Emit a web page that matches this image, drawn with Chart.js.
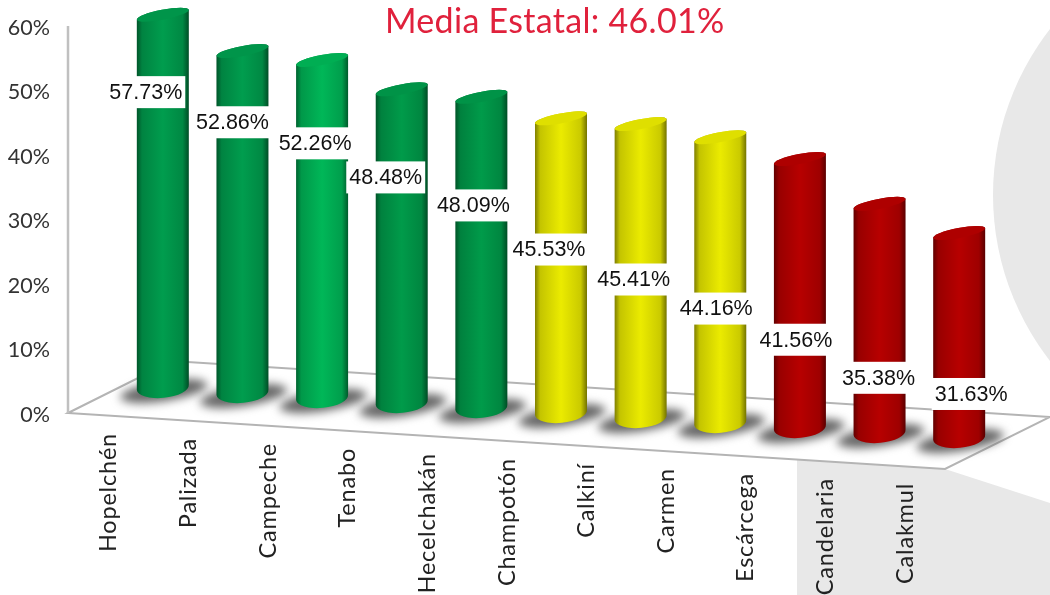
<!DOCTYPE html>
<html lang="es">
<head>
  <meta charset="UTF-8">
  <title>Media Estatal</title>
  <style>
    html, body { margin: 0; padding: 0; background: #fff; overflow: hidden; }
    canvas { display: block; }
  </style>
</head>
<body>
  <canvas id="chart" width="1050" height="595"></canvas>
  <script src="https://cdn.jsdelivr.net/npm/chart.js"></script>
  <script>
    // Data
    const titleText = 'Media Estatal: 46.01%';
    const municipios = ['Hopelchén', 'Palizada', 'Campeche', 'Tenabo', 'Hecelchakán', 'Champotón', 'Calkiní', 'Carmen', 'Escárcega', 'Candelaria', 'Calakmul'];
    const porcentajes = [57.73, 52.86, 52.26, 48.48, 48.09, 45.53, 45.41, 44.16, 41.56, 35.38, 31.63];
    const yTicks = [0, 10, 20, 30, 40, 50, 60];

    // Colours, one per bar
    const barColors = ['#009a4c', '#009a4c', '#00b356', '#009849', '#009849', '#e6e600', '#e6e600', '#e6e600', '#b30000', '#b30000', '#b30000'];

    // Hand placed value labels, relative to the top of each bar
    const labelDx = [-17, -10, -7, -16, -8, -12, -7, -4, -4, -1, 12];
    const labelDy = [49.5, 48.2, 65.4, 75.1, 100.6, 128.2, 157.4, 178.4, 192.8, 191, 183];

    // The fake perspective: each bar sits a bit lower than the previous one
    const baseLift = 25;
    const baseDrop = 5;
    const uiFont = 'Lato, sans-serif';

    function shade(hex, k) {
      const n = parseInt(hex.slice(1), 16);
      const c = [n >> 16, (n >> 8) & 255, n & 255].map(v => Math.round(Math.min(255, v * k)));
      return `rgb(${c[0]},${c[1]},${c[2]})`;
    }

    const backdrop = {
      id: 'backdrop',
      beforeDatasetsDraw(chart) {
        const { ctx, width, height } = chart;
        const y0 = chart.scales.y.getPixelForValue(0);
        const y60 = chart.scales.y.getPixelForValue(60);
        ctx.save();

        // pale grey page decoration
        ctx.fillStyle = '#e8e8e8';
        ctx.beginPath();
        ctx.arc(1263, 195, 270, 0, Math.PI * 2);
        ctx.fill();
        ctx.beginPath();
        ctx.moveTo(797, 455);
        ctx.lineTo(945, 469);
        ctx.lineTo(width, 503);
        ctx.lineTo(width, height);
        ctx.lineTo(797, height);
        ctx.closePath();
        ctx.fill();

        // floor
        ctx.beginPath();
        ctx.moveTo(68, y0 - 2);
        ctx.lineTo(172, 361);
        ctx.lineTo(width, 417);
        ctx.lineTo(945, 469);
        ctx.closePath();
        ctx.fillStyle = '#fff';
        ctx.fill();
        ctx.strokeStyle = '#b4b4b4';
        ctx.lineWidth = 2;
        ctx.stroke();

        // vertical axis
        ctx.strokeStyle = '#c0c0c0';
        ctx.lineWidth = 2.5;
        ctx.beginPath();
        ctx.moveTo(68, y60 - 2);
        ctx.lineTo(68, y0 - 2);
        ctx.stroke();

        // shadows under the cylinders
        chart.getDatasetMeta(0).data.forEach((bar, i) => {
          const yb = bar.base - baseLift + baseDrop * i;
          ctx.save();
          ctx.filter = 'blur(5px)';
          ctx.fillStyle = '#666';
          ctx.beginPath();
          ctx.ellipse(bar.x + 1, yb + 1, 44, 10, -0.15, 0, Math.PI * 2);
          ctx.fill();
          ctx.restore();
        });
        ctx.restore();
      }
    };

    const cylinders = {
      id: 'cylinders',
      afterDatasetsDraw(chart) {
        const { ctx } = chart;
        const meta = chart.getDatasetMeta(0);
        const topTilt = -0.19;
        const topRy = 5;
        const botTilt = -0.1;
        const botRy = 10.5;
        ctx.save();

        meta.data.forEach((bar, i) => {
          const rx = bar.width / 2;
          const shift = baseDrop * i - baseLift;
          // bar.y and bar.base mark the left corners of the two end caps
          const topRise = rx * Math.tan(-topTilt);
          const botRise = rx * Math.tan(-botTilt);
          const yTop = bar.y + shift + 2 - topRise;
          const yBot = bar.base + shift - botRise;
          const left = bar.x - rx;
          const right = bar.x + rx;

          const body = ctx.createLinearGradient(left, 0, right, 0);
          body.addColorStop(0, shade(barColors[i], 0.55));
          body.addColorStop(0.1, shade(barColors[i], 0.85));
          body.addColorStop(0.5, shade(barColors[i], 1.02));
          body.addColorStop(0.88, shade(barColors[i], 0.88));
          body.addColorStop(1, shade(barColors[i], 0.5));

          ctx.beginPath();
          ctx.ellipse(bar.x, yBot, rx / Math.cos(botTilt), botRy, botTilt, 0, Math.PI);
          ctx.ellipse(bar.x, yTop, rx / Math.cos(topTilt), topRy, topTilt, Math.PI, Math.PI * 2);
          ctx.closePath();
          ctx.fillStyle = body;
          ctx.fill();

          ctx.beginPath();
          ctx.ellipse(bar.x, yTop, rx / Math.cos(topTilt), topRy, topTilt, 0, Math.PI * 2);
          ctx.fillStyle = shade(barColors[i], 0.97);
          ctx.fill();
        });

        // value labels on white boxes
        ctx.font = '21.5px "Liberation Sans", Arial, sans-serif';
        ctx.textAlign = 'center';
        ctx.textBaseline = 'middle';
        meta.data.forEach((bar, i) => {
          const text = porcentajes[i].toFixed(2) + '%';
          const w = ctx.measureText(text).width;
          const x = bar.x + labelDx[i];
          const y = bar.y + labelDy[i];
          ctx.fillStyle = '#fff';
          ctx.fillRect(x - w / 2 - 3, y - 16, w + 6, 32);
          ctx.fillStyle = '#111';
          ctx.fillText(text, x, y + 1);
        });

        // category labels, rotated and following the floor edge
        ctx.font = '23.5px ' + uiFont;
        ctx.fillStyle = '#222';
        ctx.textAlign = 'right';
        municipios.forEach((name, i) => {
          const bar = meta.data[i];
          ctx.save();
          ctx.translate(bar.x - 54, bar.base + 18 + baseDrop * i);
          ctx.rotate(-Math.PI / 2);
          ctx.letterSpacing = '0.8px';
          ctx.fillText(name, 0, 0);
          ctx.restore();
        });

        // heading
        ctx.font = '34px ' + uiFont;
        ctx.letterSpacing = '0.3px';
        ctx.fillStyle = '#e0213c';
        ctx.textAlign = 'left';
        ctx.textBaseline = 'alphabetic';
        ctx.fillText(titleText, 385, 33);
        ctx.restore();
      }
    };

    new Chart(document.getElementById('chart'), {
      type: 'bar',
      data: {
        labels: municipios,
        datasets: [{
          data: porcentajes,
          backgroundColor: 'transparent',
          barPercentage: 0.653,
          categoryPercentage: 1
        }]
      },
      options: {
        responsive: false,
        animation: false,
        layout: { padding: { top: 28, bottom: 180, right: 51, left: 0 } },
        plugins: { legend: { display: false }, tooltip: { enabled: false } },
        scales: {
          x: {
            afterFit: scale => { scale.height = 0; },
            grid: { display: false, drawTicks: false, tickLength: 0 },
            border: { display: false },
            ticks: { display: false }
          },
          y: {
            min: 0,
            max: 60,
            afterFit: scale => {
              // the big tick padding must only push labels left, not shrink the plot height
              scale.width = 123;
              scale.paddingTop = 0;
              scale.paddingBottom = 0;
            },
            afterBuildTicks: scale => { scale.ticks = yTicks.map(value => ({ value })); },
            grid: { display: false, drawTicks: false, tickLength: 0 },
            border: { display: false },
            ticks: {
              padding: 73,
              color: '#333',
              font: { family: 'Lato', size: 21.5 },
              callback: value => value + '%'
            }
          }
        }
      },
      plugins: [backdrop, cylinders]
    });
  </script>
</body>
</html>
